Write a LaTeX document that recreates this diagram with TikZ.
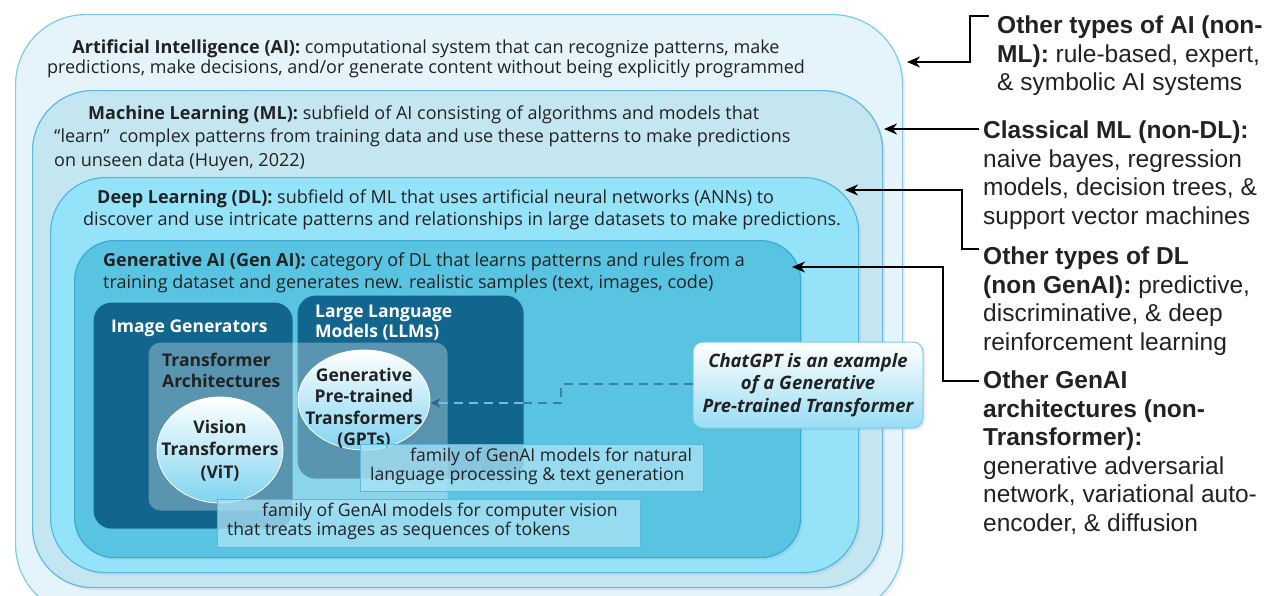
\documentclass[tikz,border=0pt]{standalone}
\usepackage{fontspec}
\setmainfont{Open Sans}
\newfontfamily\boxf{Open Sans}
\newfontfamily\arialf{Liberation Sans}
\usetikzlibrary{arrows.meta,calc,shapes.geometric,shadows}
\definecolor{aiFill}{HTML}{E4F4FA}
\definecolor{aiLine}{HTML}{7CCBEA}
\definecolor{mlFill}{HTML}{C4E6F1}
\definecolor{mlLine}{HTML}{5DBAE0}
\definecolor{dlFill}{HTML}{94E3F9}
\definecolor{dlLine}{HTML}{4FB8E2}
\definecolor{genFill}{HTML}{58C4E2}
\definecolor{genLine}{HTML}{3BA9D3}
\definecolor{darkBox}{HTML}{12668E}
\definecolor{lblFill}{HTML}{A8E2F5}
\definecolor{lblLine}{HTML}{5CB6DE}
\definecolor{ink}{HTML}{222222}
\definecolor{ellBot}{HTML}{7FD4F1}
\definecolor{dashDark}{HTML}{3A7FA6}
\definecolor{dashLight}{HTML}{6BBEE0}
\begin{document}
\begin{tikzpicture}[x=1pt,y=-1pt,
  container/.style={rounded corners=#1, inner sep=0pt, line width=1.2pt, anchor=north west},
  shad/.style={drop shadow={shadow xshift=2.5pt, shadow yshift=-2.5pt, opacity=0.12}},
  boxtext/.style={font=\boxf\fontsize{18}{#1}\selectfont, text=ink, inner sep=0pt},
  innerlbl/.style={font=\boxf\bfseries\fontsize{17.5}{#1}\selectfont, inner sep=0pt, align=left, anchor=north west},
  ell/.style={shape=ellipse, top color=white, bottom color=ellBot, draw=white, line width=0.8pt, inner sep=0pt},
  famlbl/.style={draw=lblLine, fill=lblFill, fill opacity=0.78, text opacity=1, line width=1pt, inner sep=0pt, anchor=north west},
  famtext/.style={font=\boxf\fontsize{17.6}{18.5}\selectfont, text=ink, inner sep=0pt, align=left, anchor=north west},
  righttext/.style={font=\arialf\fontsize{24.5}{28.5}\selectfont, text=ink, inner sep=0pt, align=left, anchor=north west},
  conn/.style={draw=black, line width=2.4pt, -{Stealth[length=13pt,width=11pt]}},
  dashconn/.style={dash pattern=on 9pt off 6pt, line width=2.2pt}
]
\useasboundingbox (0,0) rectangle (1279,595);
\clip (0,0) rectangle (1279,595);
\fill[white] (0,0) rectangle (1279,595);

% nested containers
\node[container=70pt, shad, fill=aiFill, draw=aiLine, minimum width=887pt, minimum height=600pt] (ai) at (15,14) {};
\node[container=60pt, shad, fill=mlFill, draw=mlLine, minimum width=850pt, minimum height=497pt] (ml) at (32,90) {};
\node[container=55pt, shad, fill=dlFill, draw=dlLine, minimum width=808pt, minimum height=395pt] (dl) at (50,177) {};
\node[container=40pt, shad, fill=genFill, draw=genLine, minimum width=726pt, minimum height=317pt] (gen) at (74,240) {};
\node[container=18pt, fill=darkBox, minimum width=199pt, minimum height=226pt] (img) at (93,302) {};
\node[container=18pt, fill=darkBox, minimum width=226pt, minimum height=183pt] (llm) at (297,295) {};
\node[container=12pt, fill=white, fill opacity=0.3, minimum width=299pt, minimum height=168pt] (trans) at (148,342) {};

% container texts
\node[boxtext=20, align=center, anchor=north] (aiT) at (426,39.5)
  {\textbf{Artificial Intelligence (AI):} computational system that can recognize patterns, make\\
   predictions, make decisions, and/or generate content without being explicitly programmed};
\node[boxtext=23.5, align=left, anchor=north west] (mlT) at (54,105.5)
  {\hspace*{34pt}\textbf{Machine Learning (ML):} subfield of AI consisting of algorithms and models that\\
   “learn”\ \ complex patterns from training data and use these patterns to make predictions\\
   on unseen data (Huyen, 2022)};
\node[boxtext=22, align=left, anchor=north west] (dlT) at (83,189.5)
  {\hspace*{14pt}\textbf{Deep Learning (DL):} subfield of ML that uses artificial neural networks (ANNs) to\\
   discover and use intricate patterns and relationships in large datasets to make predictions.};
\node[boxtext=22, align=left, anchor=north west] (genT) at (103,252.5)
  {\textbf{Generative AI (Gen AI):} category of DL that learns patterns and rules from a\\
   training dataset and generates new. realistic samples (text, images, code)};

% inner labels
\node[innerlbl=20, text=white] (imgT) at (111,319.5) {Image Generators};
\node[innerlbl=20, text=white] (llmT) at (315,304.5) {Large Language\\Models (LLMs)};
\node[innerlbl=21, text=ink] (transT) at (162,352.5) {Transformer\\Architectures};

% ellipses
\node[ell, shad, minimum width=126pt, minimum height=106pt] (vit) at (220,450) {};
\node[ell, shad, minimum width=132pt, minimum height=100pt] (gpt) at (364,400) {};
\node[font=\boxf\bfseries\fontsize{17.5}{22.5}\selectfont, text=ink, align=center, inner sep=0pt] (vitT) at (220,450.5) {Vision\\Transformers\\(ViT)};
\node[font=\boxf\bfseries\fontsize{17.5}{21.5}\selectfont, text=ink, align=center, inner sep=0pt] (gptT) at (364,408) {Generative\\Pre-trained\\Transformers\\(GPTs)};

% family labels
\node[famlbl, minimum width=343pt, minimum height=47pt] (gptL) at (360,444) {};
\node[famtext] (gptLT) at (370,448) {\hspace*{40pt}family of GenAI models for natural\\language processing \& text generation};
\node[famlbl, minimum width=423pt, minimum height=48pt] (vitL) at (217,499) {};
\node[famtext] (vitLT) at (227,503) {\hspace*{35pt}family of GenAI models for computer vision\\that treats images as sequences of tokens};

% ChatGPT callout
\node[rounded corners=10pt, shad, top color=white, bottom color=ellBot!80, draw=aiLine, line width=1pt,
      minimum width=230pt, minimum height=86pt, inner sep=0pt,
      font=\boxf\bfseries\itshape\fontsize{18.5}{22.5}\selectfont, text=ink, align=center] (chat) at (808,385)
  {ChatGPT is an example\\of a Generative\\Pre-trained Transformer};

% dashed connector
\coordinate (b1) at (561,384);
\coordinate (b2) at (561,403);
\coordinate (b3) at (523,403);
\draw[dashconn, draw=dashDark] (chat.west |- b1) -- (b1) -- (b2) -- (b3);
\draw[dashconn, draw=dashLight, -{Stealth[length=10pt,width=9pt,color=dashDark!80!black]}] (b3) -- (b2 -| gpt.east);

% right-hand texts
\node[righttext] (rAI) at (997,16) {\textbf{Other types of AI (non-}\\\textbf{ML):} rule-based, expert,\\\& symbolic AI systems};
\node[righttext] (rML) at (983,121) {\textbf{Classical ML (non-DL):}\\naive bayes, regression\\models, decision trees, \&\\support vector machines};
\node[righttext] (rDL) at (983,247) {\textbf{Other types of DL}\\\textbf{(non GenAI):} predictive,\\discriminative, \& deep\\reinforcement learning};
\node[righttext] (rGen) at (983,371) {\textbf{Other GenAI}\\\textbf{architectures (non-}\\\textbf{Transformer):}\\generative adversarial\\network, variational auto-\\encoder, \& diffusion};

% right-hand connectors
\coordinate (tAI) at (907,62);
\coordinate (tML) at (884,129);
\coordinate (tDL) at (845,190);
\coordinate (tGen) at (792,267);
\coordinate (sAI) at (989,16);
\coordinate (sML) at (979,129);
\coordinate (sDL) at (979,249);
\coordinate (sGen) at (979,381);
\draw[conn] (sAI) -- (970,16) -- (970,62) -- (tAI);
\draw[conn] (sML) -- (tML);
\draw[conn] (sDL) -- (962,249) -- (962,190) -- (tDL);
\draw[conn] (sGen) -- (943,381) -- (943,267) -- (tGen);
\end{tikzpicture}
\end{document}
